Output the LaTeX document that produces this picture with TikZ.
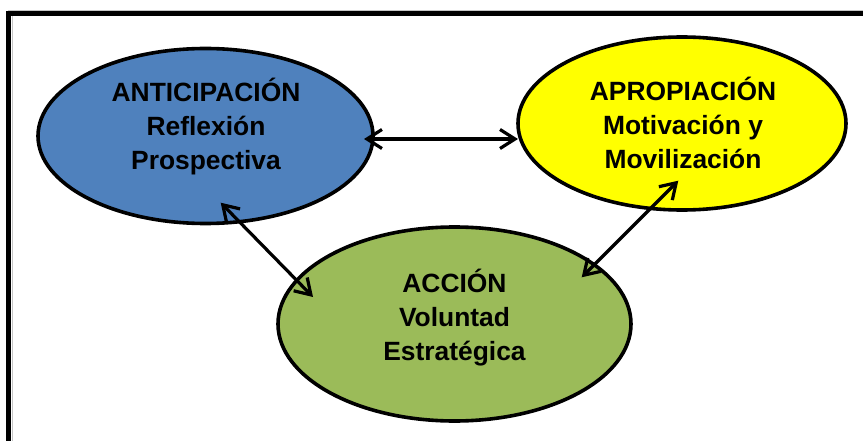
\documentclass[tikz,border=0pt]{standalone}
\usepackage{fontspec}
\setmainfont{Liberation Sans}
\usetikzlibrary{arrows.meta,shapes.geometric}
\definecolor{blueF}{HTML}{4F81BD}
\definecolor{yellowF}{HTML}{FFFF00}
\definecolor{greenF}{HTML}{9BBB59}
\tikzset{
  oval/.style={ellipse, draw=black, line width=3.6pt, inner sep=0pt},
  lbl/.style={anchor=north, align=center, inner sep=0pt,
    font=\bfseries\fontsize{26.4}{34}\selectfont},
  conn/.style={line width=3.2pt, {Straight Barb[length=15pt,width=19pt,line width=3.2pt]}-{Straight Barb[length=15pt,width=19pt,line width=3.2pt]}},
  frameline/.style={line width=5pt, black}
}
\begin{document}
\begin{tikzpicture}[x=1pt,y=-1pt]
\useasboundingbox (0,0) rectangle (863,441);
\fill[white] (0,0) rectangle (863,441);
% frame
\draw[gray!45, line width=0.8pt] (11.9,441) -- (11.9,16.5);
\draw[gray!45, line width=0.8pt] (8,10.4) -- (863,10.4);
\draw[frameline] (8.5,450) -- (8.5,13.5) -- (875,13.5);
% ellipses
\node[oval, fill=blueF, minimum width=335pt, minimum height=175pt] (ant) at (205.5,136) {};
\node[oval, fill=yellowF, minimum width=328pt, minimum height=173pt] (apr) at (682,123.5) {};
\node[oval, fill=greenF, minimum width=353pt, minimum height=194pt] (acc) at (454.5,324) {};
% labels
\node[lbl] (tant) at (206,77) {\rule{0pt}{24pt}ANTICIPACIÓN\\Reflexión\\Prospectiva};
\node[lbl] (tapr) at (683,76) {\rule{0pt}{24pt}APROPIACIÓN\\Motivación y\\Movilización};
\node[lbl] (tacc) at (454.5,268) {\rule{0pt}{24pt}ACCIÓN\\Voluntad\\Estratégica};
% connector ends
\coordinate (h1) at (364,139);
\coordinate (h2) at (518,139);
\coordinate (d1) at (220.7,202.7);
\coordinate (d2) at (313,297);
\coordinate (e1) at (678.3,180.7);
\coordinate (e2) at (581.7,277.3);
\draw[conn] (h1) -- (h2);
\draw[conn] (d1) -- (d2);
\draw[conn] (e1) -- (e2);
\end{tikzpicture}
\end{document}
